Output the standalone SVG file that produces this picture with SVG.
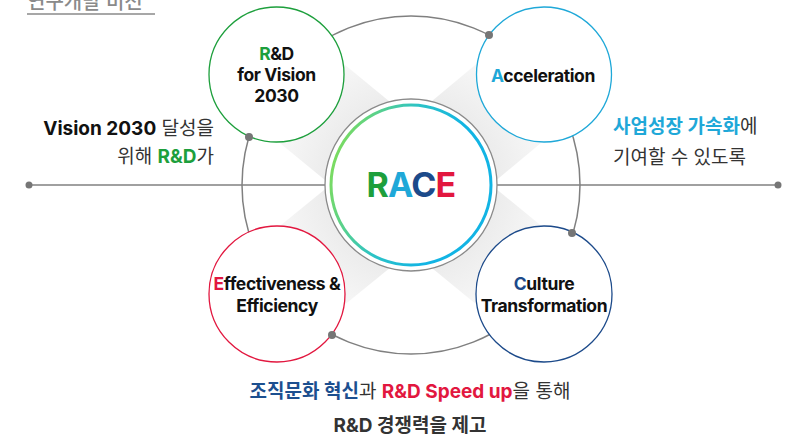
<svg xmlns="http://www.w3.org/2000/svg" width="797" height="438" viewBox="0 0 797 438">
<style>
  .t{font-family:"Inter","Noto Sans CJK KR",sans-serif;}
  .node{font-family:"Inter","Noto Sans CJK KR",sans-serif;font-weight:700;font-size:17.5px;fill:#111;text-anchor:middle;letter-spacing:-0.4px;}
  .side{font-family:"Inter","Noto Sans CJK KR",sans-serif;font-size:19px;fill:#333;}
  .b{font-weight:700;}
  .orbit{fill:none;stroke:#808080;stroke-width:1.5;}
  .dot{fill:#767676;}
  .band{fill:url(#shade);}
</style>
<defs>
  <radialGradient id="shade" gradientUnits="userSpaceOnUse" cx="411" cy="185" r="190">
    <stop offset="0.45" stop-color="#ececec"/>
    <stop offset="0.7" stop-color="#f6f6f6"/>
    <stop offset="0.95" stop-color="#ffffff"/>
  </radialGradient>
  <linearGradient id="ring" x1="0" y1="0" x2="1" y2="0.3">
    <stop offset="0.1" stop-color="#7ddc5e"/>
    <stop offset="0.5" stop-color="#2cc3c6"/>
    <stop offset="0.8" stop-color="#12b4e4"/>
  </linearGradient>
</defs>
<rect width="797" height="438" fill="#ffffff"/>

<g id="title">
  <text class="t" x="27" y="9" font-size="20" font-weight="500" fill="#8a8a8a">연구개발 비전</text>
  <line x1="27" y1="14" x2="155" y2="14" stroke="#8a8a8a" stroke-width="1.5"/>
</g>

<g id="shading">
  <polygon class="band" points="443.3,145.7 308.3,34.7 243.7,113.3 378.7,224.3"/>
  <polygon class="band" points="443.7,224.2 576.7,113.2 511.3,34.8 378.3,145.8"/>
  <polygon class="band" points="443.2,224.6 309.2,333.6 244.8,254.4 378.8,145.4"/>
  <polygon class="band" points="378.7,224.4 511.7,333.4 576.3,254.6 443.3,145.6"/>
</g>

<g id="connectors">
  <circle class="orbit" cx="411" cy="185" r="169"/>
  <line x1="29" y1="185" x2="778" y2="185" stroke="#808080" stroke-width="1.5"/>
  <circle class="dot" cx="29" cy="185" r="3.5"/>
  <circle class="dot" cx="778" cy="185" r="3.5"/>
</g>

<g id="node-rd">
  <circle cx="276.5" cy="74.5" r="67.5" fill="#fff" stroke="#1d9f3c" stroke-width="1.3"/>
  <text class="node" x="276.5" y="60"><tspan fill="#1d9f3c">R</tspan>&amp;D</text>
  <text class="node" x="276.5" y="81">for Vision</text>
  <text class="node" x="276.5" y="102">2030</text>
</g>

<g id="node-acceleration">
  <circle cx="544" cy="74.5" r="67.5" fill="#fff" stroke="#1fa8d8" stroke-width="1.3"/>
  <text class="node" x="543" y="82"><tspan fill="#1fa8d8">A</tspan>cceleration</text>
</g>

<g id="node-effectiveness">
  <circle cx="277" cy="294" r="68" fill="#fff" stroke="#e2173f" stroke-width="1.3"/>
  <text class="node" x="277" y="290"><tspan fill="#e2173f">E</tspan>ffectiveness &amp;</text>
  <text class="node" x="277" y="312">Efficiency</text>
</g>

<g id="node-culture">
  <circle cx="544" cy="294" r="68" fill="#fff" stroke="#1c4a8a" stroke-width="1.3"/>
  <text class="node" x="544" y="290"><tspan fill="#1c4a8a">C</tspan>ulture</text>
  <text class="node" x="544" y="312">Transformation</text>
</g>

<g id="node-race">
  <circle cx="411" cy="185" r="86" fill="#fff" stroke="#8a8a8a" stroke-width="1.3"/>
  <circle cx="411" cy="185" r="80" fill="none" stroke="url(#ring)" stroke-width="3"/>
  <text class="t" x="411" y="197" font-size="34" font-weight="700" text-anchor="middle" letter-spacing="-0.8"><tspan fill="#1d9f3c">R</tspan><tspan fill="#1fa8d8">A</tspan><tspan fill="#1c4a8a">C</tspan><tspan fill="#e2173f">E</tspan></text>
</g>

<g id="dots">
  <circle class="dot" cx="489" cy="35" r="4"/>
  <circle class="dot" cx="249" cy="137" r="4"/>
  <circle class="dot" cx="572" cy="233" r="4"/>
  <circle class="dot" cx="332" cy="335" r="4"/>
</g>

<g id="label-left">
  <text class="side" x="214" y="135" text-anchor="end"><tspan class="b" fill="#111">Vision 2030</tspan> 달성을</text>
  <text class="side" x="214" y="163" text-anchor="end">위해 <tspan class="b" fill="#1d9f3c">R&amp;D</tspan>가</text>
</g>

<g id="label-right">
  <text class="side" x="613" y="133"><tspan class="b" fill="#1fa8d8">사업성장 가속화</tspan>에</text>
  <text class="side" x="613" y="164">기여할 수 있도록</text>
</g>

<g id="label-bottom">
  <text class="side" x="410" y="398" text-anchor="middle"><tspan class="b" fill="#1c4f8f">조직문화 혁신</tspan>과 <tspan class="b" fill="#e2173f">R&amp;D Speed up</tspan>을 통해</text>
  <text class="side b" x="410" y="432" text-anchor="middle" fill="#111">R&amp;D 경쟁력을 제고</text>
</g>
</svg>
